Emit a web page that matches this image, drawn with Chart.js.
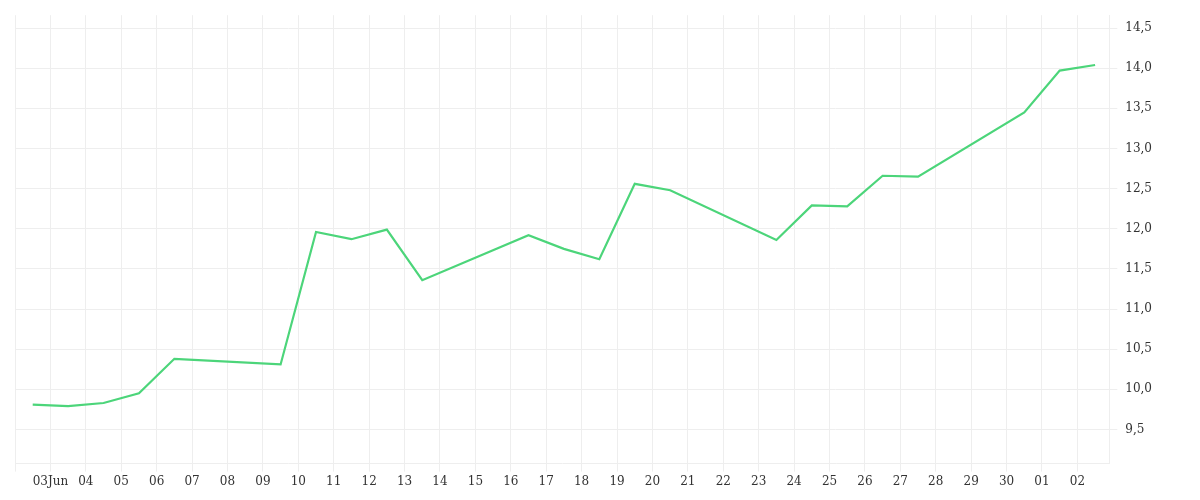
<!DOCTYPE html>
<html><head><meta charset="utf-8">
<script src="https://cdn.jsdelivr.net/npm/chart.js@4"></script>
<style>html,body{margin:0;background:#fff}#w{width:1200px;height:500px}</style>
</head><body><div id="w"><canvas id="c"></canvas></div>
<script>
const days = [2.5,3.5,4.5,5.5,6.5,9.5,10.5,11.5,12.5,13.5,16.5,17.5,18.5,19.5,20.5,23.5,24.5,25.5,26.5,27.5,30.5,31.5,32.5];
const values = [9.81,9.79,9.83,9.95,10.38,10.31,11.96,11.87,11.99,11.36,11.92,11.75,11.62,12.56,12.48,11.86,12.29,12.28,12.66,12.65,13.45,13.97,14.04];
const pad = n => String(n).padStart(2,'0');
const font = {family:'DejaVu Serif', size:12};
new Chart(document.getElementById('c'), {
  type:'line',
  data:{datasets:[{data:days.map((d,i)=>({x:d,y:values[i]})),borderColor:'#4cd57a',borderWidth:2.2,pointRadius:0,tension:0,fill:false}]},
  options:{responsive:true,maintainAspectRatio:false,animation:false,
    layout:{padding:{left:15,right:40,top:6,bottom:8}},
    plugins:{legend:{display:false},tooltip:{enabled:false}},
    scales:{
      x:{type:'linear',min:2,max:32.9,
        afterBuildTicks:a=>{a.ticks=[];for(let d=2;d<=32;d++)a.ticks.push({value:d});},
        ticks:{font,color:'#333',maxRotation:0,autoSkip:false,
          callback:v=>v===2?'':v===3?'03Jun':v<=30?pad(v):pad(v-30)},
        grid:{color:'#eeeeee',tickLength:8},border:{color:'#eeeeee'}},
      y:{position:'right',min:9.075,max:14.66,
        afterBuildTicks:a=>{a.ticks=[];for(let v=9.5;v<=14.5;v+=0.5)a.ticks.push({value:v});},
        ticks:{font,color:'#333',padding:8,callback:v=>v.toFixed(1).replace('.',',')},
        grid:{color:'#eeeeee',tickLength:8},border:{color:'#eeeeee'}}
    }}
});
</script></body></html>
